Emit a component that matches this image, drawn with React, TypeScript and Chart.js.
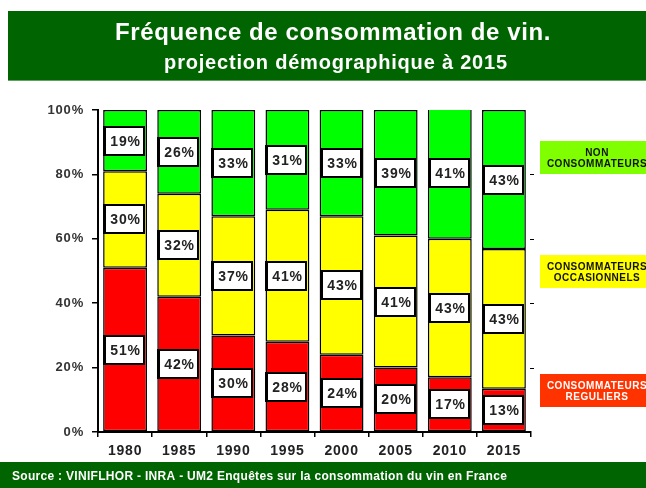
import React, { useEffect, useRef } from "react";
import { Chart, registerables } from "chart.js";

Chart.register(...registerables);

const years = ["1980", "1985", "1990", "1995", "2000", "2005", "2010", "2015"];
// shares as drawn (labels show the rounded value)
const reguliers = [51, 42, 30, 28, 24, 20, 17, 13.4];
const occasionnels = [30, 32, 37, 41, 43, 41, 43, 43.4];
const nonConso = [19, 26, 33, 31, 33, 39, 41, 43.2];
const seriesNames = [["CONSOMMATEURS", "REGULIERS"], ["CONSOMMATEURS", "OCCASIONNELS"], ["NON", "CONSOMMATEURS"]];
const yTicks = ["0%", "20%", "40%", "60%", "80%", "100%"];
const titleText = "Fréquence de consommation de vin.";
const subtitleText = "projection démographique à 2015";
const sourceText = "Source : VINIFLHOR - INRA - UM2 Enquêtes sur la consommation du vin en France";

const FONT = "'Liberation Sans', Arial, sans-serif";

export default function App() {
  const ref = useRef<HTMLCanvasElement | null>(null);

  useEffect(() => {
    document.body.style.margin = "0";
    const canvas = ref.current!;
    const decor = {
      id: "decor",
      beforeDraw(chart: any) {
        const c = chart.ctx;
        c.save();
        c.fillStyle = "#ffffff";
        c.fillRect(0, 0, chart.width, chart.height);
        c.fillStyle = "#006400";
        c.fillRect(8, 11, 638, 70);
        c.fillRect(0, 462, 646, 26);
        c.fillStyle = "#5f9f5f";
        c.fillRect(8, 80, 638, 1);
        c.fillStyle = "#ffffff";
        c.textAlign = "center";
        c.textBaseline = "middle";
        c.letterSpacing = "0.6px";
        c.font = "bold 24px " + FONT;
        c.fillText(titleText, 333, 33);
        c.letterSpacing = "0.8px";
        c.font = "bold 20px " + FONT;
        c.fillText(subtitleText, 336, 63);
        c.textAlign = "left";
        c.letterSpacing = "0.3px";
        c.font = "bold 12px " + FONT;
        c.fillText(sourceText, 12, 477);
        c.restore();
        c.letterSpacing = "0.8px";
      },
      afterDatasetsDraw(chart: any) {
        const c = chart.ctx;
        c.save();
        chart.data.datasets.forEach((ds: any, i: number) => {
          const meta = chart.getDatasetMeta(i);
          meta.data.forEach((el: any, j: number) => {
            const cy = Math.round((el.y + el.base) / 2);
            const cx = Math.round(el.x) - 1;
            const w = 40, h = 28;
            c.fillStyle = "#ffffff";
            c.fillRect(cx - w / 2, cy - h / 2, w, h);
            c.strokeStyle = "#000000";
            c.lineWidth = 2;
            c.strokeRect(cx - w / 2, cy - h / 2, w, h);
            c.fillStyle = "#000000";
            c.fillRect(cx - w / 2 - 1, cy - h / 2 - 1, 3, h + 2);
            c.fillStyle = "#222222";
            c.font = "bold 14px " + FONT;
            c.letterSpacing = "0.8px";
            c.textAlign = "center";
            c.textBaseline = "middle";
            c.fillText(Math.round(ds.data[j]) + "%", cx + 1.5, cy + 1);
          });
        });
        c.restore();
      },
      afterDraw(chart: any) {
        const c = chart.ctx;
        c.save();
        const boxes = [
          { y: 374, color: "#ff3300", text: "#ffffff" },
          { y: 255, color: "#ffff00", text: "#111111" },
          { y: 141, color: "#80ff00", text: "#111111" },
        ];
        boxes.forEach((b, i) => {
          c.fillStyle = b.color;
          c.fillRect(540, b.y, 106, 33);
          c.fillStyle = b.text;
          c.font = "bold 10px " + FONT;
          c.letterSpacing = "0.5px";
          c.textAlign = "center";
          c.textBaseline = "middle";
          const lines = seriesNames[i];
          c.fillText(lines[0], 597, b.y + 12);
          c.fillText(lines[1], 597, b.y + 23);
        });
        const ys = chart.scales.y;
        c.strokeStyle = "#000";
        c.lineWidth = 1;
        [20, 40, 60, 80].forEach((v) => {
          const yy = Math.round(ys.getPixelForValue(v)) + 0.5;
          c.beginPath();
          c.moveTo(530, yy);
          c.lineTo(534, yy);
          c.stroke();
        });
        c.restore();
        c.letterSpacing = "0px";
      },
    };

    const chart = new Chart(canvas, {
      type: "bar",
      data: {
        labels: years,
        datasets: [
          { label: seriesNames[0].join(" "), data: reguliers, backgroundColor: "#ff0000" },
          { label: seriesNames[1].join(" "), data: occasionnels, backgroundColor: "#ffff00" },
          { label: seriesNames[2].join(" "), data: nonConso, backgroundColor: "#00ff00" },
        ].map((d) => ({
          ...d,
          borderColor: "#000000",
          borderWidth: 1.5,
          borderSkipped: false,
          categoryPercentage: 1,
          barPercentage: 0.81,
        })),
      },
      options: {
        responsive: false,
        animation: false,
        devicePixelRatio: 1,
        layout: { padding: { left: 0, right: 115, top: 110, bottom: 0 } },
        plugins: { legend: { display: false }, tooltip: { enabled: false }, title: { display: false } },
        scales: {
          x: {
            stacked: true,
            grid: { offset: true, drawOnChartArea: false, tickLength: 5, color: "#000", lineWidth: 1.5 },
            border: { color: "#000", width: 2 },
            ticks: { color: "#222", font: { family: FONT, size: 14, weight: "bold" }, padding: 6 },
            afterFit(s: any) { s.height = 56; },
          },
          y: {
            stacked: true,
            min: 0,
            max: 100,
            grid: { drawOnChartArea: false, tickLength: 6, color: "#000", lineWidth: 1.5 },
            border: { color: "#000", width: 2 },
            ticks: {
              stepSize: 20,
              color: "#333",
              padding: 8,
              font: { family: FONT, size: 13, weight: "bold" },
              callback: (v: any) => yTicks[Math.round(Number(v) / 20)],
            },
            afterFit(s: any) { s.width = 98; },
          },
        },
      },
      plugins: [decor],
    } as any);
    return () => chart.destroy();
  }, []);

  return (
    <div style={{ position: "absolute", left: 0, top: 0 }}>
      <canvas ref={ref} width={646} height={488} style={{ display: "block", width: 646, height: 488 }} />
    </div>
  );
}
